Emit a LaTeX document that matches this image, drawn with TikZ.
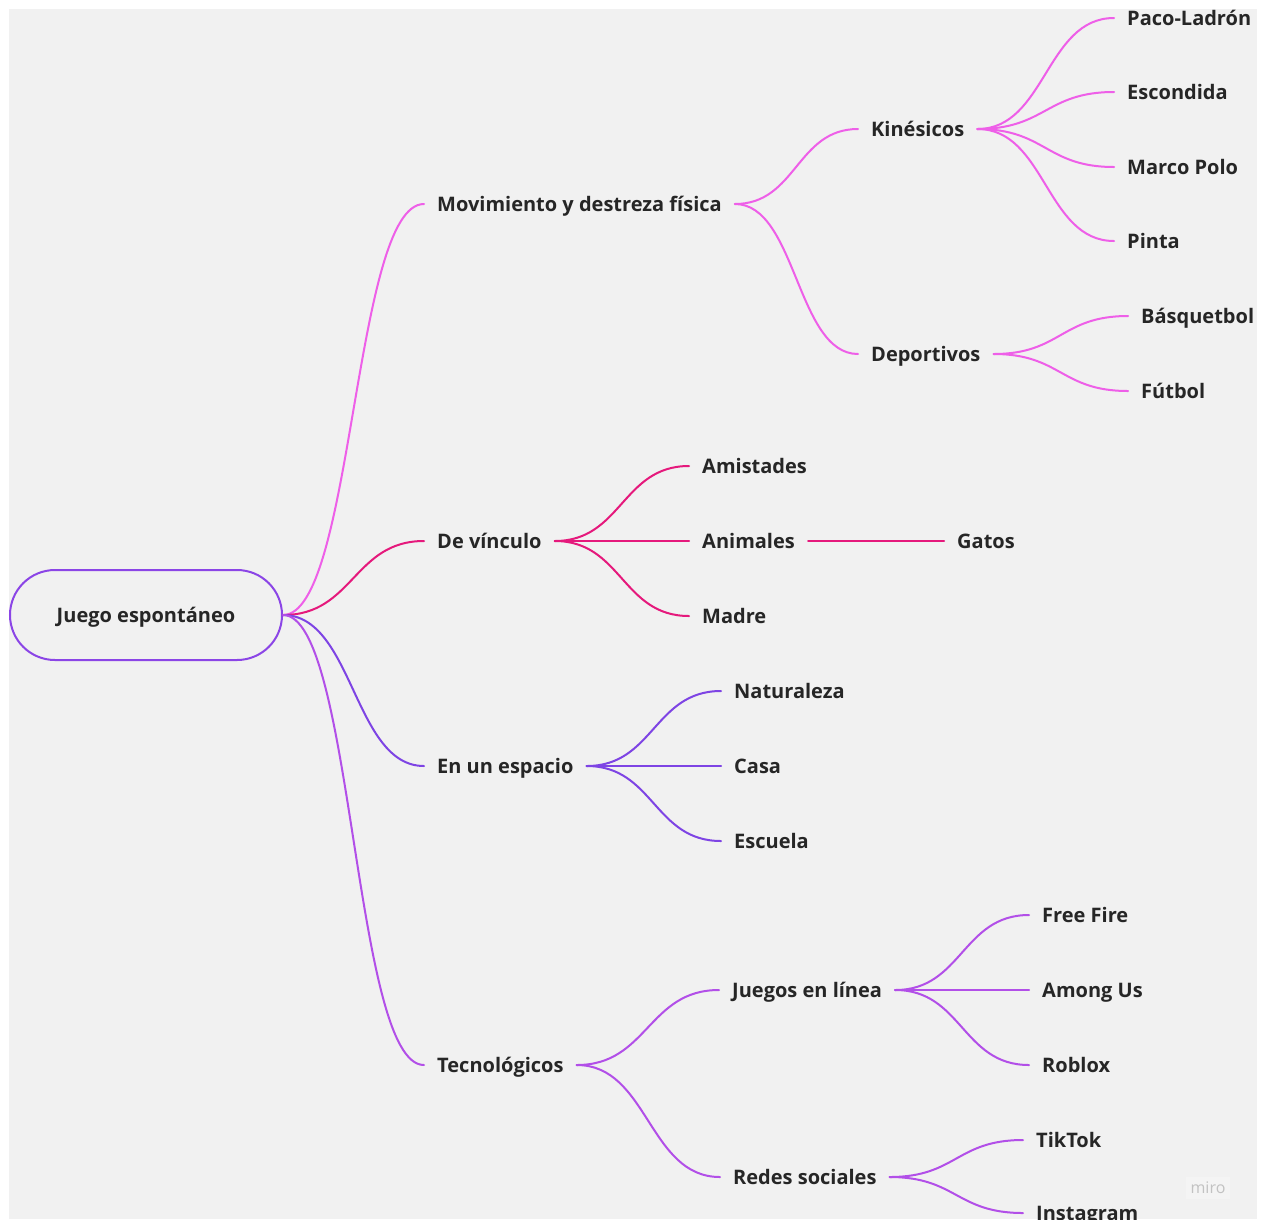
\documentclass[tikz,border=0pt]{standalone}
\usepackage{fontspec}
\setmainfont{Open Sans}
\usetikzlibrary{calc,positioning}
\definecolor{canvas}{HTML}{F1F1F1}
\definecolor{ink}{HTML}{262626}
\definecolor{rootline}{HTML}{8B45E6}
\definecolor{moveline}{HTML}{EE5FE8}
\definecolor{bondline}{HTML}{E5197C}
\definecolor{placeline}{HTML}{7E44E4}
\definecolor{techline}{HTML}{B24FE8}
\definecolor{brandgray}{HTML}{C2C2C2}

\begin{document}
\begin{tikzpicture}[x=1pt,y=-1pt,
  topic/.style={anchor=west,inner xsep=13pt,inner ysep=0pt,text height=14pt,
                text depth=0pt,font=\bfseries\fontsize{20}{22}\selectfont,text=ink},
  hub/.style={draw=rootline,line width=2pt,rounded corners=45pt,
              minimum width=272pt,minimum height=90pt,text height=14pt,text depth=0pt,
              font=\bfseries\fontsize{20}{22}\selectfont,text=ink},
  fan/.style={line width=2pt,line cap=round,
              to path={let \p1=(\tikztostart), \p2=(\tikztotarget) in
                .. controls ({0.5*\x1+0.5*\x2},\y1) and ({0.5*\x1+0.5*\x2},\y2)
                .. (\tikztotarget) \tikztonodes}},
  moveedge/.style={fan,draw=moveline},
  bondedge/.style={fan,draw=bondline},
  placeedge/.style={fan,draw=placeline},
  techedge/.style={fan,draw=techline}]
  % canvas
  \fill[white] (0,0) rectangle (1263,1219);
  \fill[canvas] (9,9) rectangle (1257,1219);
  \useasboundingbox (0,0) rectangle (1263,1219);

  \node[hub] (root) at (146,615) {Juego espontáneo};

  % first level
  \node[topic] (move) at (424,204) {Movimiento y destreza física};
  \node[topic] (bond) at (424,541) {De vínculo};
  \node[topic] (place) at (424,766) {En un espacio};
  \node[topic] (tech) at (424,1065) {Tecnológicos};

  % movimiento
  \node[topic] (kines) at (858,129) {Kinésicos};
  \node[topic] (deport) at (858,354) {Deportivos};
  \node[topic] (paco) at (1114,18) {Paco-Ladrón};
  \node[topic] (escond) at (1114,92) {Escondida};
  \node[topic] (marco) at (1114,167) {Marco Polo};
  \node[topic] (pinta) at (1114,241) {Pinta};
  \node[topic] (basq) at (1128,316) {Básquetbol};
  \node[topic] (futbol) at (1128,391) {Fútbol};

  % vinculo
  \node[topic] (amist) at (689,466) {Amistades};
  \node[topic] (anim) at (689,541) {Animales};
  \node[topic] (madre) at (689,616) {Madre};
  \node[topic] (gatos) at (944,541) {Gatos};

  % espacio
  \node[topic] (natur) at (721,691) {Naturaleza};
  \node[topic] (casa) at (721,766) {Casa};
  \node[topic] (escuela) at (721,841) {Escuela};

  % tecnologicos
  \node[topic] (online) at (719,990) {Juegos en línea};
  \node[topic] (redes) at (720,1177) {Redes sociales};
  \node[topic] (freefire) at (1029,915) {Free Fire};
  \node[topic] (among) at (1029,990) {Among Us};
  \node[topic] (roblox) at (1029,1065) {Roblox};
  \node[topic] (tiktok) at (1023,1140) {TikTok};
  \node[topic] (insta) at (1023,1213) {Instagram};

  \node[fill=white,fill opacity=0.25,text opacity=1,text=brandgray,
        font=\fontsize{16}{18}\selectfont,inner sep=5pt] (brand) at (1208,1188) {miro};

  \draw[moveedge] (root.east) to (move.west);
  \draw[bondedge] (root.east) to (bond.west);
  \draw[placeedge] (root.east) to (place.west);
  \draw[techedge] (root.east) to (tech.west);

  \draw[moveedge] (move.east) to (kines.west);
  \draw[moveedge] (move.east) to (deport.west);
  \draw[moveedge] (kines.east) to (paco.west);
  \draw[moveedge] (kines.east) to (escond.west);
  \draw[moveedge] (kines.east) to (marco.west);
  \draw[moveedge] (kines.east) to (pinta.west);
  \draw[moveedge] (deport.east) to (basq.west);
  \draw[moveedge] (deport.east) to (futbol.west);

  \draw[bondedge] (bond.east) to (amist.west);
  \draw[bondedge] (bond.east) to (anim.west);
  \draw[bondedge] (bond.east) to (madre.west);
  \draw[bondedge] (anim.east) -- (gatos.west);

  \draw[placeedge] (place.east) to (natur.west);
  \draw[placeedge] (place.east) to (casa.west);
  \draw[placeedge] (place.east) to (escuela.west);

  \draw[techedge] (tech.east) to (online.west);
  \draw[techedge] (tech.east) to (redes.west);
  \draw[techedge] (online.east) to (freefire.west);
  \draw[techedge] (online.east) to (among.west);
  \draw[techedge] (online.east) to (roblox.west);
  \draw[techedge] (redes.east) to (tiktok.west);
  \draw[techedge] (redes.east) to (insta.west);
\end{tikzpicture}
\end{document}
